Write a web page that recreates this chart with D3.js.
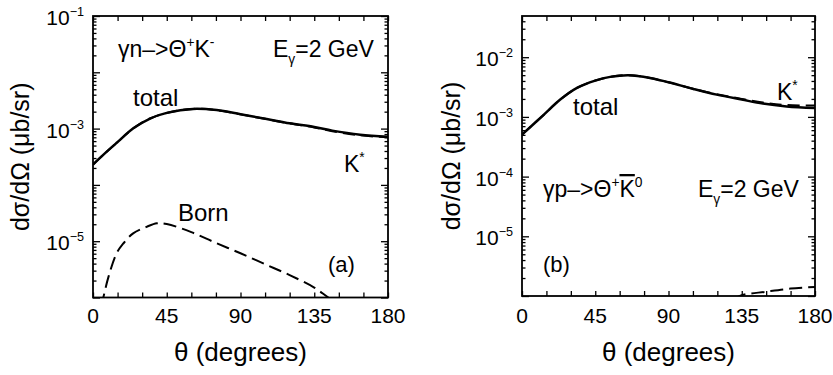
<!DOCTYPE html>
<html><head><meta charset="utf-8">
<script src="https://cdn.jsdelivr.net/npm/d3@7"></script>
<style>body{margin:0;background:#fff}svg{display:block}</style>
</head><body><svg id="c" width="833" height="375"></svg>
<script>
// ---- data ----
const thetaTickLabels = [0, 45, 90, 135, 180];
const thetaMinorTicks = [0, 15, 30, 45, 60, 75, 90, 105, 120, 135, 150, 165, 180];
const leftYTickExps = [-1, -3, -5];
const rightYTickExps = [-2, -3, -4, -5];

// panel (a): gamma n -> Theta+ K-
const leftTotal = [[0,2.3e-4],[6.4,3.45e-4],[14.5,5.6e-4],[24.6,1.01e-3],[34.8,1.51e-3],[45,1.9e-3],[61,2.24e-3],[75.5,2.13e-3],[90,1.8e-3],[106,1.48e-3],[120,1.24e-3],[135,1.07e-3],[146,9.2e-4],[163,7.8e-4],[180,7.2e-4]];
const leftKstar = [[0,2.3e-4],[6.4,3.45e-4],[14.5,5.6e-4],[24.6,1.01e-3],[34.8,1.51e-3],[45,1.9e-3],[61,2.24e-3],[75.5,2.13e-3],[90,1.79e-3],[106,1.47e-3],[120,1.23e-3],[135,1.05e-3],[146,9.0e-4],[163,7.6e-4],[180,7.0e-4]];
const leftBorn = [[5,7.0e-7],[6.3,1.0e-6],[9.4,2.3e-6],[14.4,6.1e-6],[18.5,9.1e-6],[24.5,1.38e-5],[32.7,1.8e-5],[39,2.08e-5],[45,2.02e-5],[60,1.45e-5],[75,9.3e-6],[90,6.1e-6],[105,3.9e-6],[120,2.5e-6],[135,1.5e-6],[143.6,1.0e-6],[150,7.6e-7]];

// panel (b): gamma p -> Theta+ K0bar
const rightTotal = [[0,5.05e-4],[13.3,1.08e-3],[23.5,1.95e-3],[33.8,3.06e-3],[45,4.06e-3],[54.2,4.68e-3],[65.4,5.0e-3],[78.7,4.5e-3],[90,3.8e-3],[105.3,2.94e-3],[119.6,2.36e-3],[135,1.95e-3],[148,1.67e-3],[162.6,1.5e-3],[180,1.41e-3]];
const rightKstar = [[0,5.05e-4],[13.3,1.08e-3],[23.5,1.95e-3],[33.8,3.06e-3],[45,4.06e-3],[54.2,4.68e-3],[65.4,5.0e-3],[78.7,4.5e-3],[90,3.8e-3],[105.3,2.96e-3],[119.6,2.40e-3],[135,2.0e-3],[148,1.74e-3],[162.6,1.58e-3],[180,1.55e-3]];
const rightBorn = [[130,8.8e-7],[135,1.03e-6],[150,1.18e-6],[165,1.33e-6],[180,1.42e-6]];

// ---- drawing ----
const FONT = "'Liberation Sans', Arial, Helvetica, sans-serif";
const svg = d3.select("#c");

function richText(g, x, yb, parts, size, anchor) {
  const t = g.append("text").attr("x", x).attr("y", yb)
    .attr("font-family", FONT).attr("font-size", size)
    .attr("text-anchor", anchor || "start").attr("fill", "#000");
  let shift = 0;
  parts.forEach(p => {
    const target = p.sup ? -0.42 * size : p.sub ? 0.3 * size : 0;
    const ts = t.append("tspan").text(p.t).attr("dy", target - shift);
    shift = target;
    if (p.sup || p.sub) ts.attr("font-size", size * 0.6);
    if (p.over) ts.attr("text-decoration", "overline");
  });
  return t;
}

function panel(o) {
  const g = svg.append("g");
  const x = d3.scaleLinear().domain([0, 180]).range([o.x0, o.x1]);
  const y = d3.scaleLog().domain([1e-6, o.yMax]).range([o.y1, o.y0]);
  const id = "clip" + o.name;
  svg.append("defs").append("clipPath").attr("id", id).append("rect")
    .attr("x", o.x0).attr("y", o.y0).attr("width", o.x1 - o.x0).attr("height", o.y1 - o.y0);
  const line = d3.line().x(d => x(d[0])).y(d => y(d[1])).curve(d3.curveCatmullRom.alpha(0.5));
  const cg = g.append("g").attr("clip-path", `url(#${id})`);
  cg.append("path").datum(o.kstar).attr("d", line).attr("fill", "none")
    .attr("stroke", "#000").attr("stroke-width", 2).attr("stroke-dasharray", "12,6");
  cg.append("path").datum(o.born).attr("d", line).attr("fill", "none")
    .attr("stroke", "#000").attr("stroke-width", 2).attr("stroke-dasharray", "13,6");
  cg.append("path").datum(o.total).attr("d", line).attr("fill", "none")
    .attr("stroke", "#000").attr("stroke-width", 2.5);

  // ticks via axes (inward)
  const decades = y.ticks().filter(v => Math.abs(Math.log10(v) - Math.round(Math.log10(v))) < 1e-9);
  const minors = y.ticks().filter(v => !decades.includes(v));
  const ax = [
    [d3.axisBottom(x).tickValues(thetaMinorTicks).tickSize(-5), `translate(0,${o.y1})`],
    [d3.axisTop(x).tickValues(thetaMinorTicks).tickSize(-5), `translate(0,${o.y0})`],
    [d3.axisLeft(y).tickValues(decades).tickSize(-7), `translate(${o.x0},0)`],
    [d3.axisLeft(y).tickValues(minors).tickSize(-3.5), `translate(${o.x0},0)`],
    [d3.axisRight(y).tickValues(decades).tickSize(-7), `translate(${o.x1},0)`],
    [d3.axisRight(y).tickValues(minors).tickSize(-3.5), `translate(${o.x1},0)`]
  ];
  ax.forEach(([a, tr]) => {
    const ag = g.append("g").attr("transform", tr).call(a.tickSizeOuter(0).tickFormat(""));
    ag.select(".domain").remove();
    ag.selectAll("line").attr("stroke", "#000").attr("stroke-width", 1.3);
  });
  g.append("rect").attr("x", o.x0).attr("y", o.y0).attr("width", o.x1 - o.x0).attr("height", o.y1 - o.y0)
    .attr("fill", "none").attr("stroke", "#000").attr("stroke-width", 1.8);

  // tick labels
  thetaTickLabels.forEach(v => {
    g.append("text").attr("x", x(v)).attr("y", 323).attr("text-anchor", "middle")
      .attr("font-family", FONT).attr("font-size", 21).text(v);
  });
  o.yExps.forEach(e => {
    richText(g, o.x0 - 9, y(Math.pow(10, e)) + 9, [{t: "10"}, {t: "\u2212" + Math.abs(e), sup: true}], 21, "end");
  });
  // axis titles
  g.append("text").attr("x", (o.x0 + o.x1) / 2).attr("y", 361).attr("text-anchor", "middle")
    .attr("font-family", FONT).attr("font-size", 26).text("\u03b8 (degrees)");
  g.append("text").attr("transform", `translate(${o.ylx},${(o.y0 + o.y1) / 2}) rotate(-90)`)
    .attr("text-anchor", "middle").attr("font-family", FONT).attr("font-size", 25)
    .text("d\u03c3/d\u03a9 (\u03bcb/sr)");
  o.notes.forEach(n => richText(g, n.x, n.y, n.parts, n.size));
}

panel({
  name: "a", x0: 93, x1: 388, y0: 16, y1: 297.5, yMax: 1e-1, ylx: 29,
  total: leftTotal, kstar: leftKstar, born: leftBorn, yExps: leftYTickExps,
  notes: [
    {x: 118, y: 57, size: 23, parts: [{t: "\u03b3n\u2013>\u0398"}, {t: "+", sup: true}, {t: "K"}, {t: "-", sup: true}]},
    {x: 273, y: 57, size: 23, parts: [{t: "E"}, {t: "\u03b3", sub: true}, {t: "=2 GeV"}]},
    {x: 133, y: 106, size: 24, parts: [{t: "total"}]},
    {x: 344, y: 172, size: 23, parts: [{t: "K"}, {t: "*", sup: true}]},
    {x: 178, y: 221, size: 24, parts: [{t: "Born"}]},
    {x: 328, y: 272, size: 22, parts: [{t: "(a)"}]}
  ]
});
panel({
  name: "b", x0: 522, x1: 815, y0: 16, y1: 296, yMax: 0.049, ylx: 460,
  total: rightTotal, kstar: rightKstar, born: rightBorn, yExps: rightYTickExps,
  notes: [
    {x: 543, y: 197, size: 23, parts: [{t: "\u03b3p\u2013>\u0398"}, {t: "+", sup: true}, {t: "K", over: true}, {t: "0", sup: true}]},
    {x: 698, y: 197, size: 23, parts: [{t: "E"}, {t: "\u03b3", sub: true}, {t: "=2 GeV"}]},
    {x: 573, y: 115, size: 24, parts: [{t: "total"}]},
    {x: 777, y: 100, size: 23, parts: [{t: "K"}, {t: "*", sup: true}]},
    {x: 543, y: 272, size: 22, parts: [{t: "(b)"}]}
  ]
});
</script></body></html>
